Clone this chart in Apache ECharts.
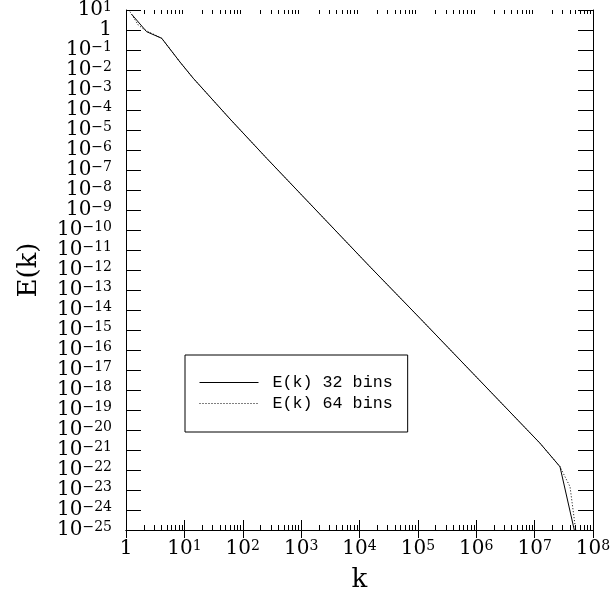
<!DOCTYPE html>
<html>
<head>
<meta charset="utf-8">
<script src="https://cdn.jsdelivr.net/npm/echarts@6/dist/echarts.min.js"></script>
<style>
  html, body { margin: 0; padding: 0; background: #fff; }
  #main { width: 611px; height: 595px; }
</style>
</head>
<body>
<div id="main"></div>
<script>
// E(k), 32 bins (solid)
var kSolid = [1.25, 2.26, 4.09, 8.4, 14.2, 60.5, 257, 15100, 108700, 1.24e7, 2.72e7, 4.78e7];
var eSolid = [6.1, 0.82, 0.385, 0.0251, 3.85e-3, 3.55e-5, 3.85e-7, 1.46e-12, 3.85e-15, 2.16e-21, 1.46e-22, 1e-25];

// 64 bins (dotted)
var kDot = [1.17, 1.62, 2.11, 4.09, 8.4, 14.2, 60.5, 257, 15100, 108700, 1.24e7, 2.72e7, 4.04e7, 5.05e7];
var eDot = [8.2, 1.78, 1.0, 0.385, 0.0251, 3.85e-3, 3.55e-5, 3.85e-7, 1.46e-12, 3.85e-15, 2.16e-21, 1.46e-22, 1.46e-23, 1e-25];

var seriesNames = ['E(k) 32 bins', 'E(k) 64 bins'];

var xMin = 1, xMax = 1e8;
var yMin = 1e-25, yMax = 10;

// tick values: decades on E(k), 2..9 minor ticks on k
var yTicks = [];
for (var p = 1; p >= -25; p--) yTicks.push(Math.pow(10, p));
var minorK = [];
for (var d = 0; d < 8; d++) {
  for (var m = 2; m <= 9; m++) minorK.push(m * Math.pow(10, d));
}

var serif = 'DejaVu Serif';

function powLabel(v) {
  var n = Math.round(Math.log10(v));
  if (n === 0) return '1';
  return '{b|10}{s|' + (n < 0 ? '\u2212' + (-n) : n) + '}';
}

var rich = {
  b: { fontSize: 20, fontFamily: serif, color: '#000', lineHeight: 20 },
  s: { fontSize: 14, fontFamily: serif, color: '#000', verticalAlign: 'top', lineHeight: 14 }
};

function pairs(xs, ys) {
  return xs.map(function (x, i) { return [x, ys[i]]; });
}

var myChart = echarts.init(document.getElementById('main'));
var blackLine = { lineStyle: { color: '#000', width: 1 } };

var option = {
  backgroundColor: '#fff',
  animation: false,
  grid: { left: 126, top: 10, right: 18, bottom: 65, outerBoundsMode: 'none' },
  legend: {
    data: seriesNames,
    orient: 'vertical',
    left: 185,
    top: 355,
    padding: [19, 15, 20, 14],
    itemWidth: 59,
    itemHeight: 14,
    itemGap: 4,
    borderColor: '#000',
    borderWidth: 1,
    backgroundColor: '#fff',
    selectedMode: false,
    itemStyle: { opacity: 0 },
    lineStyle: { width: 1 },
    textStyle: { fontFamily: 'Liberation Mono', fontSize: 16.7, lineHeight: 14, color: '#000', padding: [0, 0, 0, 9] }
  },
  xAxis: [
    {
      type: 'log', logBase: 10, min: xMin, max: xMax, interval: 1,
      name: 'k', nameLocation: 'middle', nameGap: 37, nameMoveOverlap: false,
      nameTextStyle: { fontFamily: serif, fontSize: 26, color: '#000' },
      axisLine: blackLine,
      axisTick: { inside: true, length: 10, lineStyle: { color: '#000' } },
      splitLine: { show: false },
      axisLabel: { margin: 9, fontSize: 20, fontFamily: serif, color: '#000', formatter: powLabel, rich: rich }
    },
    {
      type: 'log', logBase: 10, min: xMin, max: xMax, interval: 1, position: 'top',
      axisLine: blackLine,
      axisTick: { inside: true, length: 8, lineStyle: { color: '#000' } },
      splitLine: { show: false },
      axisLabel: { show: false }
    }
  ],
  yAxis: [
    {
      type: 'log', logBase: 10, min: yMin, max: yMax, interval: 1,
      name: 'E(k)', nameLocation: 'middle', nameGap: 84, nameRotate: 90, nameMoveOverlap: false,
      nameTextStyle: { fontFamily: serif, fontSize: 26, color: '#000' },
      axisLine: blackLine,
      axisTick: { inside: true, length: 15, customValues: yTicks, lineStyle: { color: '#000' } },
      splitLine: { show: false },
      axisLabel: {
        margin: 14, customValues: yTicks, hideOverlap: false,
        fontSize: 20, fontFamily: serif, color: '#000', formatter: powLabel, rich: rich
      }
    },
    {
      type: 'log', logBase: 10, min: yMin, max: yMax, interval: 1, position: 'right',
      axisLine: blackLine,
      axisTick: { inside: true, length: 15, customValues: yTicks, lineStyle: { color: '#000' } },
      splitLine: { show: false },
      axisLabel: { show: false }
    }
  ],
  series: [
    {
      name: seriesNames[1],
      type: 'line',
      showSymbol: false,
      symbol: 'none',
      lineStyle: { color: '#000', width: 1, type: [1, 2] },
      itemStyle: { color: '#000' },
      data: pairs(kDot, eDot)
    },
    {
      name: seriesNames[0],
      type: 'line',
      showSymbol: false,
      symbol: 'none',
      lineStyle: { color: '#000', width: 1 },
      itemStyle: { color: '#000' },
      data: pairs(kSolid, eSolid)
    },
    {
      // minor ticks along the bottom and top k axes
      type: 'custom',
      silent: true,
      clip: false,
      renderItem: function (params, api) {
        var b = api.coord([api.value(0), yMin]);
        var t = api.coord([api.value(0), yMax]);
        var x = Math.round(b[0]) + 0.5;
        return {
          type: 'group',
          children: [
            { type: 'line', shape: { x1: x, y1: b[1], x2: x, y2: b[1] - 5 }, style: { stroke: '#000', lineWidth: 1 } },
            { type: 'line', shape: { x1: x, y1: t[1], x2: x, y2: t[1] + 4 }, style: { stroke: '#000', lineWidth: 1 } }
          ]
        };
      },
      data: minorK.map(function (k) { return [k, yMin]; })
    }
  ]
};

myChart.setOption(option);
</script>
</body>
</html>
